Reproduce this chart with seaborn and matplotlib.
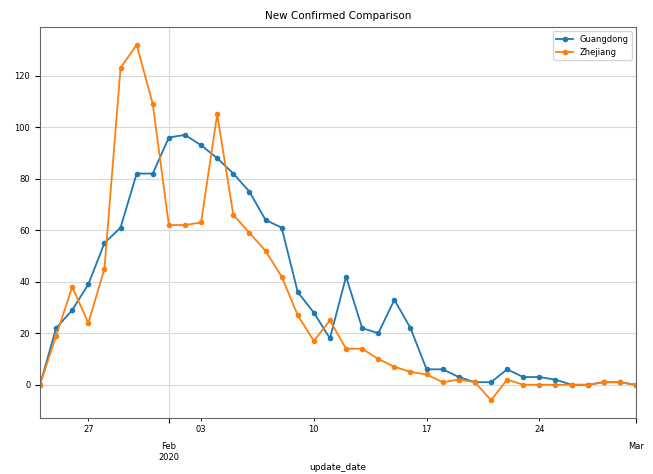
import pandas as pd
import matplotlib
matplotlib.use("Agg")
import matplotlib.pyplot as plt
import matplotlib.dates as mdates
import matplotlib.ticker as mticker
import seaborn as sns

# daily new confirmed cases, 2020-01-24 .. 2020-03-01
dates = pd.date_range("2020-01-24", "2020-03-01", freq="D")
guangdong = [0, 22, 29, 39, 55, 61, 82, 82, 96, 97,
             93, 88, 82, 75, 64, 61, 36, 28, 18, 42,
             22, 20, 33, 22, 6, 6, 3, 1, 1, 6,
             3, 3, 2, 0, 0, 1, 1, 0]
zhejiang = [0, 19, 38, 24, 45, 123, 132, 109, 62, 62,
            63, 105, 66, 59, 52, 42, 27, 17, 25, 14,
            14, 10, 7, 5, 4, 1, 2, 1, -6, 2,
            0, 0, 0, 0, 0, 1, 1, 0]
provinces = ["Guangdong", "Zhejiang"]

df = pd.DataFrame({"update_date": dates, "Guangdong": guangdong, "Zhejiang": zhejiang})
long_df = df.melt(id_vars="update_date", value_vars=provinces,
                  var_name="province", value_name="new_confirmed")

plt.rcParams["font.family"] = ["DejaVu Sans"]
fig, ax = plt.subplots(figsize=(6.53, 4.74), dpi=100)
fig.subplots_adjust(left=40 / 653, right=636 / 653, top=1 - 27 / 474, bottom=1 - 418 / 474)

sns.lineplot(data=long_df, x="update_date", y="new_confirmed", hue="province",
             hue_order=provinces, palette=["#1f77b4", "#ff7f0e"],
             marker="o", markersize=4, markeredgewidth=0, linewidth=1.3, ax=ax)

ax.set_xlim(dates[0], dates[-1])
ax.margins(y=0.05)

# pandas-like date axis: weekly minor labels, monthly major labels
ax.xaxis.set_major_locator(mdates.MonthLocator())


def major_fmt(x, pos):
    d = mdates.num2date(x)
    if d.month == 2:
        return d.strftime("%b\n%Y")
    return d.strftime("%b")


ax.xaxis.set_major_formatter(mticker.FuncFormatter(major_fmt))
ax.xaxis.set_minor_locator(mdates.WeekdayLocator(byweekday=mdates.MO))
ax.xaxis.set_minor_formatter(mdates.DateFormatter("%d"))
ax.tick_params(axis="x", which="major", pad=14, labelsize=6)
ax.tick_params(axis="x", which="minor", labelsize=6)
ax.tick_params(axis="y", labelsize=6)

ax.grid(True, which="major", color="#d9d9d9", linewidth=0.8)
for s in ax.spines.values():
    s.set_color("#666666")

ax.set_title("New Confirmed Comparison", fontsize=7.5)
ax.set_xlabel("update_date", fontsize=6.5, labelpad=1)
ax.set_ylabel("")
ax.legend(loc="upper right", fontsize=6, frameon=True)

fig.savefig("out.png", dpi=100)
